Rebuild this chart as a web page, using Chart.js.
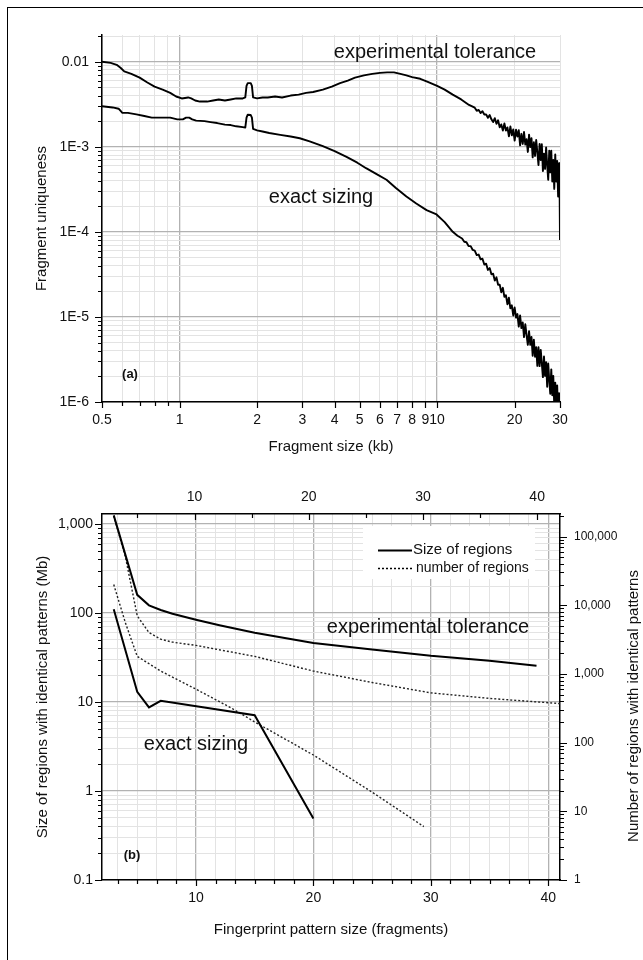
<!DOCTYPE html>
<html>
<head>
<meta charset="utf-8">
<script src="https://cdn.jsdelivr.net/npm/chart.js@4.4.1/dist/chart.umd.min.js"></script>
<style>
  html, body { margin: 0; padding: 0; background: #fff; }
  #wrap { position: relative; width: 643px; height: 960px; overflow: hidden; }
  #wrap canvas { position: absolute; left: 0; }
  #frame { position: absolute; left: 7px; top: 7px; width: 700px; height: 1000px;
           border-left: 1.5px solid #000; border-top: 1.5px solid #000; pointer-events: none; }
</style>
</head>
<body>
<div id="wrap">
  <canvas id="chartA" width="643" height="480" style="top:0"></canvas>
  <canvas id="chartB" width="643" height="480" style="top:480px"></canvas>
  <div id="frame"></div>
</div>
<script>
const FONT = '"Liberation Sans", Arial, Helvetica, sans-serif';

// ---- panel (a): fragment uniqueness vs fragment size (kb) ----
const tolKb = [0.5,0.54,0.57,0.59,0.61,0.65,0.70,0.75,0.80,0.86,
  0.92,0.97,1.02,1.05,1.08,1.11,1.15,1.20,1.28,1.35,
  1.42,1.50,1.58,1.66,1.76,1.80,1.82,1.84,1.89,1.91,
  1.93,2.0,2.1,2.2,2.35,2.5,2.7,2.9,3.1,3.3,
  3.6,3.9,4.2,4.5,4.8,5.2,5.6,6.0,6.4,6.8,
  7.2,7.6,8.0,8.6,9.2,10,10.7,11.5,12.4,13.3];
const tolUniq = [0.0100,0.0097,0.0092,0.0085,0.0077,0.0072,0.0065,0.0057,0.0051,0.0047,
  0.0043,0.0039,0.0037,0.00375,0.0038,0.0037,0.0035,0.0034,0.0034,0.0035,
  0.0036,0.0035,0.0036,0.0037,0.0037,0.0038,0.0052,0.0056,0.0056,0.0052,
  0.0038,0.0037,0.0038,0.0038,0.0039,0.0038,0.0040,0.0041,0.0043,0.0044,
  0.0047,0.0051,0.0056,0.0060,0.0065,0.0069,0.0072,0.0074,0.0075,0.0075,
  0.0072,0.0069,0.0066,0.0063,0.0058,0.0052,0.0047,0.0041,0.0036,0.0031];
// noisy tail of the tolerance curve
const tolKbTail = [14,14.25,14.5,14.75,15,15.25,15.5,15.75,16,16.25,16.5,16.75,17,17.25,17.5,17.75,
  18,18.25,18.5,18.75,19,19.25,19.5,19.75,20,20.25,20.5,20.75,21,21.25,21.5,21.75,
  22,22.25,22.5,22.75,23,23.25,23.5,23.75,24,24.25,24.5,24.75,25,25.25,25.5,25.75,
  26,26.25,26.5,26.75,27,27.25,27.5,27.75,28,28.25,28.5,28.75,29,29.25,29.5,29.75,29.9,30];
const tolUniqTail = [28.8e-4,26.5e-4,27.1e-4,24.9e-4,26.2e-4,24.0e-4,24.0e-4,21.9e-4,
  23.6e-4,21.0e-4,19.5e-4,21.7e-4,18.6e-4,20.5e-4,16.9e-4,18.3e-4,
  15.5e-4,18.8e-4,15.5e-4,16.9e-4,13.3e-4,17.3e-4,13.6e-4,16.0e-4,
  11.8e-4,15.9e-4,13.2e-4,15.7e-4,10.4e-4,14.2e-4,10.8e-4,14.9e-4,
  10.6e-4,12.3e-4,8.7e-4,13.9e-4,9.9e-4,12.6e-4,7.5e-4,11.3e-4,
  7.8e-4,12.0e-4,8.6e-4,6.1e-4,10.8e-4,7.0e-4,10.7e-4,5.2e-4,
  8.3e-4,5.5e-4,9.8e-4,6.1e-4,4.1e-4,9.0e-4,5.0e-4,9.0e-4,
  3.9e-4,7.0e-4,3.2e-4,8.1e-4,3.9e-4,6.8e-4,2.6e-4,6.4e-4,3.0e-4,0.8e-4];

const exactKb = [0.5,0.55,0.58,0.60,0.63,0.68,0.73,0.78,0.85,0.92,
  0.98,1.03,1.06,1.09,1.12,1.16,1.25,1.32,1.40,1.50,
  1.58,1.66,1.76,1.80,1.82,1.84,1.89,1.91,1.93,2.0,
  2.1,2.23,2.46,2.7,2.93,3.2,3.6,4.0,4.45,4.9,
  5.3,5.8,6.36,6.9,7.6,8.3,9.1,9.95,10.7,11.5,12.0];
const exactUniq = [0.0030,0.0029,0.0028,0.0025,0.0025,0.0024,0.0023,0.0022,0.0022,0.0022,
  0.0021,0.0021,0.0022,0.0022,0.0021,0.00203,0.0020,0.00195,0.0019,0.00182,
  0.0018,0.00174,0.0017,0.00168,0.0022,0.00238,0.00236,0.0022,0.00162,0.00156,
  0.00151,0.00145,0.00138,0.00132,0.00126,0.00116,0.00102,0.00089,0.00076,0.00065,
  0.00056,0.00048,0.00041,0.00033,0.00026,0.000215,0.00018,0.00016,0.00013,0.0001,0.00009];
const exactKbTail = [12.5,12.75,13,13.25,13.5,13.75,14,14.25,14.5,14.75,
  15,15.25,15.5,15.75,16,16.25,16.5,16.75,17,17.25,
  17.5,17.75,18,18.25,18.5,18.75,19,19.25,19.5,19.75,
  20,20.25,20.5,20.75,21,21.25,21.5,21.75,22,22.25,
  22.5,22.75,23,23.25,23.5,23.75,24,24.25,24.5,24.75,
  25,25.25,25.5,25.75,26,26.25,26.5,26.75,27,27.25,
  27.5,27.75,28,28.25,28.5,28.75,29,29.25,29.5,29.75,30];
const exactUniqTail = [83.6e-6,76.4e-6,75.5e-6,67.9e-6,68.0e-6,61.3e-6,60.2e-6,53.3e-6,54.1e-6,47.5e-6,
  48.3e-6,41.3e-6,42.2e-6,35.7e-6,37.5e-6,31.7e-6,32.2e-6,26.7e-6,29.2e-6,23.9e-6,
  24.0e-6,19.5e-6,22.0e-6,17.2e-6,18.0e-6,14.1e-6,16.8e-6,12.6e-6,13.7e-6,10.4e-6,
  12.9e-6,9.8e-6,10.8e-6,7.7e-6,10.4e-6,7.4e-6,8.6e-6,5.8e-6,8.2e-6,6.1e-6,
  4.7e-6,6.8e-6,4.7e-6,5.8e-6,3.5e-6,5.4e-6,3.4e-6,4.4e-6,2.66e-6,4.4e-6,
  2.64e-6,4.1e-6,2.85e-6,1.96e-6,3.43e-6,2.03e-6,2.94e-6,1.51e-6,2.84e-6,1.8e-6,
  1.25e-6,2.42e-6,1.2e-6,2.03e-6,0.9e-6,1.69e-6,0.84e-6,1.57e-6,0.65e-6,1.27e-6,0.5e-6];

const aXTicks = [0.5,0.6,0.7,0.8,0.9,1,2,3,4,5,6,7,8,9,10,20,30];
const aXLabels = ['0.5','','','','','1','2','3','4','5','6','7','8','9','10','20','30'];
const aYDecades = [1e-6,1e-5,1e-4,1e-3,1e-2];
const aYLabels = ['1E-6','1E-5','1E-4','1E-3','0.01'];

// ---- panel (b): regions with identical patterns vs pattern size ----
const tolPattern = [3,5,6,7,8,10,12,15,20,25,30,35,39];
const tolSizeMb = [1250,160,122,108,98,84,73,60,46,39,33,29,25.5];
const exactPattern = [3,5,6,7,15,20];
const exactSizeMb = [110,13,8.7,10.3,7.1,0.49];
const tolCountPattern = [3,4,5,6,7,8,10,15,20,25,30,35,41];
const tolCount = [200000,50000,7000,4000,3200,2900,2600,1800,1100,750,530,440,370];
const exactCountPattern = [3,4,5,7,10,13,15,20,25,29.4];
const exactCount = [20000,5500,1800,1100,600,320,200,66,19,6];

const bXTicks = [3.333,5,6.667,8.333,10,11.667,13.333,15,16.667,18.333,20,21.667,23.333,
  25,26.667,28.333,30,31.667,33.333,35,36.667,38.333,40];
const bTopTicks = [5,10,15,20,25,30,35,40];
const bXLabelled = [10,20,30,40];
const bYDecades = [0.1,1,10,100,1000];
const bYLabels = ['0.1','1','10','100','1,000'];
const bY2Decades = [1,10,100,1000,10000,100000];
const bY2Labels = ['1','10','100','1,000','10,000','100,000'];

function logTicks(lo, hi) {
  const out = [];
  for (let e = Math.floor(Math.log10(lo)); e <= Math.ceil(Math.log10(hi)); e++) {
    for (let m = 1; m < 10; m++) {
      const v = Number((m * Math.pow(10, e)).toPrecision(6));
      if (v >= lo * 0.999 && v <= hi * 1.001) out.push(v);
    }
  }
  return out;
}
function isDecade(v) {
  const l = Math.log10(v);
  return Math.abs(l - Math.round(l)) < 1e-6;
}
function labelFrom(values, labels) {
  return (v) => {
    const i = values.findIndex(d => Math.abs(d - v) <= Math.abs(d) * 1e-6);
    return i < 0 ? '' : labels[i];
  };
}
function pts(xs, ys) {
  return xs.map((x, i) => ({ x: x, y: ys[i] }));
}
function setTicks(values) {
  return (scale) => { scale.ticks = values.map(v => ({ value: v })); };
}
function gridOpts(isMajor) {
  return {
    drawTicks: false,
    color: c => (c.tick && isMajor(c.tick.value)) ? '#b2b2b2' : '#e3e3e3',
    lineWidth: c => (c.tick && isMajor(c.tick.value)) ? 1.3 : 1
  };
}
const BORDER = { display: true, color: '#000', width: 1.5 };

// short/long tick marks drawn on the library's scales
const tickMarks = {
  id: 'tickMarks',
  afterDraw(chart, args, opts) {
    const ctx = chart.ctx;
    ctx.save();
    ctx.strokeStyle = '#000';
    ctx.lineWidth = 1.2;
    ctx.beginPath();
    (opts.axes || []).forEach(a => {
      const s = chart.scales[a.id];
      s.ticks.forEach(t => {
        const len = t.label ? a.major : a.minor;
        const d = a.inward ? -len : len;
        if (s.isHorizontal()) {
          const x = Math.round(s.getPixelForValue(t.value)) + 0.5;
          const y = s.position === 'top' ? s.bottom : s.top;
          const dir = s.position === 'top' ? -1 : 1;
          ctx.moveTo(x, y);
          ctx.lineTo(x, y + dir * d);
        } else {
          const y = Math.round(s.getPixelForValue(t.value)) + 0.5;
          const x = s.position === 'left' ? s.right : s.left;
          const dir = s.position === 'left' ? -1 : 1;
          ctx.moveTo(x, y);
          ctx.lineTo(x + dir * d, y);
        }
      });
    });
    ctx.stroke();
    ctx.restore();
  }
};

// in-plot labels, legend and the rotated right title
const decor = {
  id: 'decor',
  beforeDatasetsDraw(chart, args, opts) {
    if (!opts.box) return;
    const [x, y, w, h] = opts.box;
    chart.ctx.save();
    chart.ctx.fillStyle = '#fff';
    chart.ctx.fillRect(x, y, w, h);
    chart.ctx.restore();
  },
  afterDraw(chart, args, opts) {
    const ctx = chart.ctx;
    ctx.save();
    ctx.fillStyle = '#111';
    ctx.textBaseline = 'middle';
    (opts.texts || []).forEach(t => {
      ctx.save();
      ctx.font = t.font;
      ctx.textAlign = t.align || 'center';
      ctx.translate(t.x, t.y);
      if (t.rot) ctx.rotate(t.rot);
      ctx.fillText(t.text, 0, 0);
      ctx.restore();
    });
    (opts.keys || []).forEach(k => {
      ctx.save();
      ctx.strokeStyle = '#000';
      ctx.lineWidth = k.width;
      ctx.setLineDash(k.dash || []);
      ctx.beginPath();
      ctx.moveTo(k.x0, k.y);
      ctx.lineTo(k.x1, k.y);
      ctx.stroke();
      ctx.restore();
    });
    ctx.restore();
  }
};

Chart.defaults.font.family = FONT;
Chart.defaults.color = '#111';

new Chart(document.getElementById('chartA'), {
  type: 'line',
  data: {
    datasets: [
      { label: 'experimental tolerance', data: pts(tolKb.concat(tolKbTail), tolUniq.concat(tolUniqTail)),
        borderColor: '#000', borderWidth: 1.9, pointRadius: 0, borderJoinStyle: 'round' },
      { label: 'exact sizing', data: pts(exactKb.concat(exactKbTail), exactUniq.concat(exactUniqTail)),
        borderColor: '#000', borderWidth: 1.9, pointRadius: 0, borderJoinStyle: 'round' }
    ]
  },
  options: {
    responsive: false,
    animation: false,
    devicePixelRatio: 1,
    layout: { padding: { left: 0, top: 35, right: 83, bottom: 0 } },
    plugins: {
      legend: { display: false },
      tooltip: { enabled: false },
      tickMarks: { axes: [
        { id: 'x', major: 6, minor: 4 },
        { id: 'y', major: 7, minor: 4 }
      ] },
      decor: { texts: [
        { text: 'experimental tolerance', x: 435, y: 52, font: '20px ' + FONT },
        { text: 'exact sizing', x: 321, y: 197, font: '20px ' + FONT },
        { text: '(a)', x: 130, y: 374, font: 'bold 13px ' + FONT }
      ] }
    },
    scales: {
      x: {
        type: 'logarithmic', min: 0.5, max: 30, position: 'bottom',
        afterBuildTicks: setTicks(aXTicks),
        afterFit: s => { s.height = 78; },
        ticks: { autoSkip: false, maxRotation: 0, padding: 10, font: { size: 14 },
                 callback: labelFrom(aXTicks, aXLabels) },
        grid: gridOpts(v => v === 1 || v === 10),
        border: BORDER,
        title: { display: true, text: 'Fragment size (kb)', font: { size: 15 }, padding: { top: 0, bottom: 24 } }
      },
      y: {
        type: 'logarithmic', min: 1e-6, max: 0.0206, position: 'left',
        afterBuildTicks: setTicks(logTicks(1e-6, 0.0206)),
        afterFit: s => { s.width = 102; },
        ticks: { autoSkip: false, padding: 13, font: { size: 14 },
                 callback: labelFrom(aYDecades, aYLabels) },
        grid: gridOpts(isDecade),
        border: BORDER,
        title: { display: true, text: 'Fragment uniqueness', font: { size: 15 }, padding: { top: 33, bottom: 0 } }
      }
    }
  },
  plugins: [tickMarks, decor]
});

new Chart(document.getElementById('chartB'), {
  type: 'line',
  data: {
    datasets: [
      { label: 'Size of regions (tolerance)', data: pts(tolPattern, tolSizeMb), yAxisID: 'y',
        borderColor: '#000', borderWidth: 2, pointRadius: 0 },
      { label: 'Size of regions (exact)', data: pts(exactPattern, exactSizeMb), yAxisID: 'y',
        borderColor: '#000', borderWidth: 2, pointRadius: 0 },
      { label: 'number of regions (tolerance)', data: pts(tolCountPattern, tolCount), yAxisID: 'y2',
        borderColor: '#222', borderWidth: 1.4, borderDash: [2, 2], pointRadius: 0 },
      { label: 'number of regions (exact)', data: pts(exactCountPattern, exactCount), yAxisID: 'y2',
        borderColor: '#222', borderWidth: 1.4, borderDash: [2, 2], pointRadius: 0 }
    ]
  },
  options: {
    responsive: false,
    animation: false,
    devicePixelRatio: 1,
    layout: { padding: 0 },
    plugins: {
      legend: { display: false },
      tooltip: { enabled: false },
      tickMarks: { axes: [
        { id: 'x', major: 6, minor: 4 },
        { id: 'x2', major: 6, minor: 4, inward: true },
        { id: 'y', major: 7, minor: 4 },
        { id: 'y2', major: 7, minor: 4 }
      ] },
      decor: {
        box: [363, 46, 172, 53],
        texts: [
          { text: 'experimental tolerance', x: 428, y: 147, font: '20px ' + FONT },
          { text: 'exact sizing', x: 196, y: 264, font: '20px ' + FONT },
          { text: '(b)', x: 132, y: 375, font: 'bold 13px ' + FONT },
          { text: 'Size of regions', x: 413, y: 70, align: 'left', font: '15px ' + FONT },
          { text: 'number of regions', x: 416, y: 88, align: 'left', font: '14px ' + FONT },
          { text: 'Number of regions with identical patterns', x: 634, y: 226, rot: -Math.PI / 2, font: '15px ' + FONT }
        ],
        keys: [
          { x0: 378, x1: 412, y: 70.5, width: 2 },
          { x0: 378, x1: 412, y: 88.5, width: 1.4, dash: [2, 2] }
        ]
      }
    },
    scales: {
      x: {
        type: 'linear', min: 2, max: 41, position: 'bottom',
        afterBuildTicks: setTicks(bXTicks),
        afterFit: s => { s.height = 80; },
        ticks: { autoSkip: false, maxRotation: 0, padding: 10, font: { size: 14 },
                 callback: v => bXLabelled.includes(v) ? String(v) : '' },
        grid: gridOpts(v => bXLabelled.includes(v)),
        border: BORDER,
        title: { display: true, text: 'Fingerprint pattern size (fragments)', font: { size: 15 }, padding: { top: 0, bottom: 21 } }
      },
      x2: {
        type: 'linear', min: 1.9, max: 42, position: 'top',
        afterBuildTicks: setTicks(bTopTicks),
        afterFit: s => { s.height = 34; },
        ticks: { autoSkip: false, maxRotation: 0, padding: 8, font: { size: 14 },
                 callback: v => bXLabelled.includes(v) ? String(v) : '' },
        grid: { drawOnChartArea: false, drawTicks: false },
        border: BORDER
      },
      y: {
        type: 'logarithmic', min: 0.1, max: 1295, position: 'left',
        afterBuildTicks: setTicks(logTicks(0.1, 1295)),
        afterFit: s => { s.width = 102; },
        ticks: { autoSkip: false, padding: 9, font: { size: 14 },
                 callback: labelFrom(bYDecades, bYLabels) },
        grid: gridOpts(isDecade),
        border: BORDER,
        title: { display: true, text: 'Size of regions with identical patterns (Mb)', font: { size: 15 }, padding: { top: 34, bottom: 0 } }
      },
      y2: {
        type: 'logarithmic', min: 1, max: 212800, position: 'right',
        afterBuildTicks: setTicks(logTicks(1, 212800)),
        afterFit: s => { s.width = 83; },
        ticks: { autoSkip: false, padding: 14, font: { size: 12 },
                 callback: labelFrom(bY2Decades, bY2Labels) },
        grid: { drawOnChartArea: false, drawTicks: false },
        border: BORDER
      }
    }
  },
  plugins: [tickMarks, decor]
});
</script>
</body>
</html>
